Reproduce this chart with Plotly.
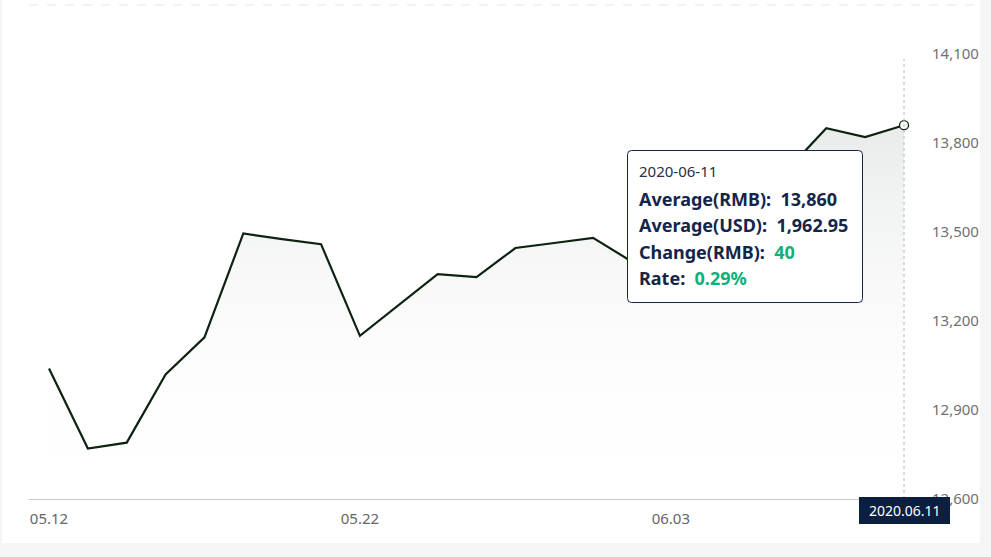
import plotly.graph_objects as go

# ---- data ----
dates = ['05.12', '05.13', '05.14', '05.15', '05.18', '05.19', '05.20', '05.21', '05.22',
         '05.25', '05.26', '05.27', '05.28', '05.29', '06.01', '06.02', '06.03', '06.04',
         '06.05', '06.08', '06.09', '06.10', '06.11']
avg_rmb = [13040, 12770, 12790, 13020, 13145, 13495, 13476, 13459, 13150,
           13255, 13358, 13348, 13446, 13463, 13480, 13400, 13360, 13410,
           13450, 13710, 13850, 13820, 13860]
tick_idx = [0, 8, 16]
y_ticks = [12600, 12900, 13200, 13500, 13800, 14100]
tip_date = '2020-06-11'
tip_usd = '1,962.95'
tip_change = '40'
tip_rate = '0.29%'
axis_date = '2020.06.11'

W, H = 991, 557
L, R, T, B = 29, 66, 5, 58
PW, PH = W - L - R, H - T - B
y_min = 12600
px_per_unit = 0.29667
y_max = y_min + PH / px_per_unit
step = 38.864
x_lo = -(49 - L) / step
x_hi = x_lo + PW / step

def px(x):
    return (x - L) / PW

def py(y):
    return (H - B - y) / PH

NAVY = '#13254a'
GREEN = '#0fb07a'
FONT = 'Noto Sans'

xs = list(range(len(dates)))
last = len(dates) - 1

fig = go.Figure()
fig.add_trace(go.Scatter(
    x=xs, y=avg_rmb, mode='lines',
    line=dict(color='#0e2211', width=2.2),
    fill='tozeroy',
    fillgradient=dict(type='vertical',
                      colorscale=[[0, 'rgba(255,255,255,0)'], [1, 'rgba(226,229,228,0.75)']],
                      start=y_min, stop=max(avg_rmb)),
    hoverinfo='skip'))
fig.add_trace(go.Scatter(
    x=[xs[last]], y=[avg_rmb[last]], mode='markers',
    marker=dict(size=9, color='white', line=dict(color='#0e2211', width=1.3)),
    hoverinfo='skip'))

shapes = []
# card
shapes.append(dict(type='rect', xref='paper', yref='paper', layer='below',
                   x0=px(2), x1=px(981), y0=py(543), y1=py(0),
                   fillcolor='white', line=dict(width=0)))
# top dashed line
shapes.append(dict(type='line', xref='paper', yref='paper', layer='below',
                   x0=px(29), x1=px(979), y0=py(5), y1=py(5),
                   line=dict(color='#e6e6e6', width=1, dash='dash')))
# spike line
shapes.append(dict(type='line', xref='x', yref='y', layer='above',
                   x0=xs[last], x1=xs[last], y0=y_min, y1=14085,
                   line=dict(color='#b8b8b8', width=1, dash='dot')))
# tooltip rounded box
x0, x1, y0, y1 = 627.5, 862.5, 150.5, 302.5
r = 4
rx, ry = r / PW, r / PH
X0, X1, Y0, Y1 = px(x0), px(x1), py(y1), py(y0)
path = (f"M {X0+rx},{Y1} L {X1-rx},{Y1} Q {X1},{Y1} {X1},{Y1-ry} "
        f"L {X1},{Y0+ry} Q {X1},{Y0} {X1-rx},{Y0} L {X0+rx},{Y0} "
        f"Q {X0},{Y0} {X0},{Y0+ry} L {X0},{Y1-ry} Q {X0},{Y1} {X0+rx},{Y1} Z")
shapes.append(dict(type='path', xref='paper', yref='paper', layer='above', path=path,
                   fillcolor='white', line=dict(color=NAVY, width=1)))
# axis date box
shapes.append(dict(type='rect', xref='paper', yref='paper', layer='above',
                   x0=px(859), x1=px(950), y0=py(524), y1=py(497),
                   fillcolor='#0b1f40', line=dict(width=0)))
# right clip of card
shapes.append(dict(type='rect', xref='paper', yref='paper', layer='above',
                   x0=px(980), x1=px(992), y0=py(560), y1=py(-2),
                   fillcolor='#f5f5f5', line=dict(width=0)))

ann = []
def txt(x, y, t, size=18, color=NAVY, anchor='left'):
    ann.append(dict(xref='paper', yref='paper', x=px(x), y=py(y), text=t,
                    showarrow=False, xanchor=anchor, yanchor='middle',
                    font=dict(family=FONT, size=size, color=color)))

txt(637, 171, tip_date, size=15, color='#23304d')
txt(637, 199, f"<b>Average(RMB):  {avg_rmb[last]:,}</b>")
txt(637, 225, f"<b>Average(USD):  {tip_usd}</b>")
txt(637, 252, f"<b>Change(RMB):  <span style='color:{GREEN}'>{tip_change}</span></b>")
txt(637, 278, f"<b>Rate:  <span style='color:{GREEN}'>{tip_rate}</span></b>")
txt(904.5, 510.5, axis_date, size=14, color='white', anchor='center')

fig.update_layout(
    width=W, height=H,
    margin=dict(l=L, r=R, t=T, b=B),
    paper_bgcolor='#f5f5f5', plot_bgcolor='rgba(0,0,0,0)',
    showlegend=False,
    shapes=shapes, annotations=ann,
    font=dict(family=FONT),
    xaxis=dict(range=[x_lo, x_hi], tickmode='array', tickvals=tick_idx,
               ticktext=[dates[i] for i in tick_idx],
               showgrid=False, zeroline=False, showline=True, linecolor='#cccccc',
               linewidth=1, ticks='', ticklabelstandoff=6,
               tickfont=dict(size=15, color='#666666')),
    yaxis=dict(range=[y_min, y_max], side='right', tickmode='array', tickvals=y_ticks,
               tickformat=',', showgrid=False, zeroline=False, showline=False,
               ticks='', ticklabelstandoff=6,
               tickfont=dict(size=15, color='#707070')),
)

fig.write_html('out.html', config={'displayModeBar': False},
               post_script="document.body.style.margin='0';document.body.style.overflow='hidden';")
